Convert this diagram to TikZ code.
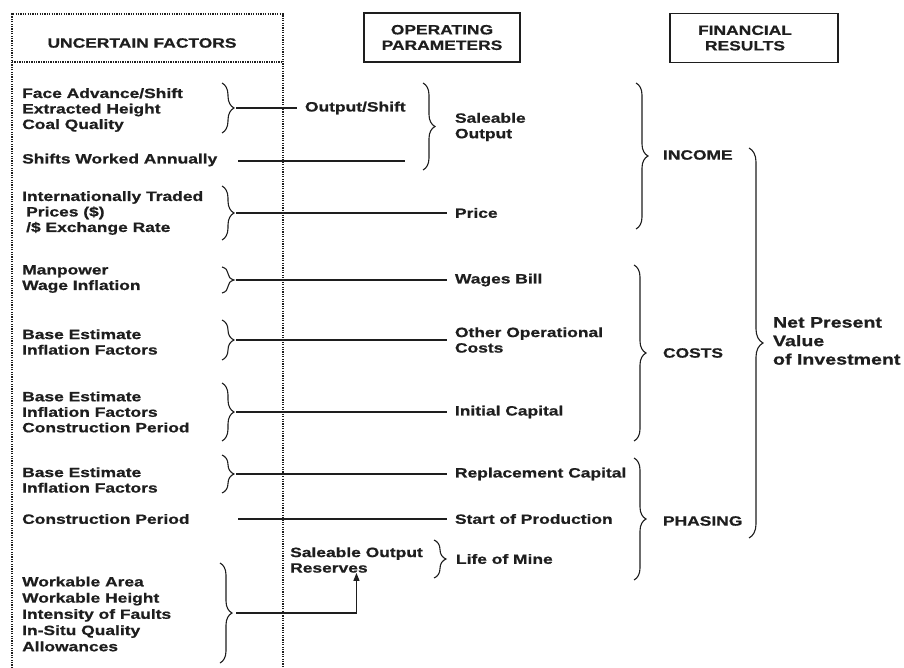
\documentclass[tikz,border=0pt]{standalone}
\usepackage{fontspec}
\setmainfont{Liberation Sans}[FakeStretch=1.29, BoldFeatures={FakeBold=0.7}]
\usetikzlibrary{decorations.pathreplacing,arrows.meta}
\definecolor{ink}{HTML}{1E1E1E}

\begin{document}
\begin{tikzpicture}[x=1pt,y=1pt,
  every node/.style={font=\fontsize{13.5}{15.5}\selectfont\bfseries, text=ink},
  factor/.style={anchor=west, inner sep=0pt, align=left},
  param/.style={anchor=west, inner sep=0pt, outer xsep=8pt, align=left},
  result/.style={anchor=west, inner sep=0pt, outer xsep=6pt, align=left},
  headbox/.style={draw=ink, line width=1.3pt, inner sep=0pt, align=center, minimum height=49pt},
  dotted rule/.style={draw=ink, line width=1.6pt, dash pattern=on 1.3pt off 1.1pt},
  curly/.style={draw=ink, decorate, decoration={brace, amplitude=12pt}, line width=1.1pt},
  link/.style={draw=ink, line width=1.1pt},
]
\fill[white] (0,0) rectangle (904,-668);
\useasboundingbox (0,0) rectangle (904,-668);

% left panel of uncertain factors
\draw[dotted rule] (12,-668) -- (12,-14) -- (283,-14) -- (283,-668);
\draw[dotted rule] (12,-62) -- (283,-62);

% column headings
\node[inner sep=0pt] (uf) at (142,-43) {UNCERTAIN FACTORS};
\node[headbox, minimum width=156pt] (opbox) at (442,-37.5) {OPERATING\\PARAMETERS};
\node[headbox, minimum width=168pt] (frbox) at (754,-38) {FINANCIAL\hspace*{18pt}\\RESULTS\hspace*{18pt}};

% uncertain factors
\node[factor] (f1) at (22,-110) {Face Advance/Shift\\Extracted Height\\Coal Quality};
\node[factor] (f2) at (22,-160) {Shifts Worked Annually};
\node[factor] (f3) at (22,-213) {Internationally Traded\\\hspace*{4pt}Prices (\$)\\\hspace*{4pt}/\$ Exchange Rate};
\node[factor] (f4) at (22,-279) {Manpower\\Wage Inflation};
\node[factor] (f5) at (22,-342) {Base Estimate\\Inflation Factors};
\node[factor] (f6) at (22,-412) {Base Estimate\\Inflation Factors\\Construction Period};
\node[factor] (f7) at (22,-480) {Base Estimate\\Inflation Factors};
\node[factor] (f8) at (22,-519) {Construction Period};
\node[factor, font=\fontsize{13.5}{16.2}\selectfont\bfseries] (f9) at (22,-614)
  {Workable Area\\Workable Height\\Intensity of Faults\\In-Situ Quality\\Allowances};

% braces gathering the factors
\draw[curly] (222,-83) -- (222,-133);  \coordinate (t1) at (236,-108);
\draw[curly] (222,-186) -- (222,-240); \coordinate (t3) at (236,-213);
\draw[curly] (222,-267) -- (222,-293); \coordinate (t4) at (236,-280);
\draw[curly] (222,-320) -- (222,-360); \coordinate (t5) at (236,-340);
\draw[curly] (222,-383) -- (222,-441); \coordinate (t6) at (236,-412);
\draw[curly] (222,-455) -- (222,-493); \coordinate (t7) at (236,-474);
\coordinate (t8) at (238,-519);
\coordinate (t2) at (238,-161);
\draw[curly] (220,-563) -- (220,-663); \coordinate (t9) at (236,-613);

% operating parameters
\node[param] (outshift) at (297,-108) {Output/Shift};
\coordinate (shiftsend) at (405,-161);
\node[param] (saleable) at (447,-127) {Saleable\\Output};
\node[param] (price) at (447,-213) {Price};
\node[param] (wages) at (447,-280) {Wages Bill};
\node[param] (otherops) at (447,-340) {Other Operational\\Costs};
\node[param] (initcap) at (447,-412) {Initial Capital};
\node[param] (replcap) at (447,-474) {Replacement Capital};
\node[param] (startprod) at (447,-519) {Start of Production};
\node[factor] (reserves) at (290,-560) {Saleable Output\\Reserves};
\node[param] (lifemine) at (448,-559) {Life of Mine};

\draw[curly] (423,-83) -- (423,-170);
\draw[curly] (434,-540) -- (434,-578);

% connectors from factors to parameters
\draw[link] (t1) -- (outshift.west);
\draw[link] (t2) -- (shiftsend);
\draw[link] (t3) -- (price.west);
\draw[link] (t4) -- (wages.west);
\draw[link] (t5) -- (otherops.west);
\draw[link] (t6) -- (initcap.west);
\draw[link] (t7) -- (replcap.west);
\draw[link] (t8) -- (startprod.west);
\draw[link, -{Triangle[length=8pt,width=6pt]}] (t9) -| (reserves.south);

% financial results
\draw[curly] (636,-83) -- (636,-229);
\draw[curly] (634,-265) -- (634,-441);
\draw[curly] (634,-458) -- (634,-580);
\node[result] (income) at (657,-155) {INCOME};
\node[result] (costs) at (657,-353) {COSTS};
\node[result] (phasing) at (657,-521) {PHASING};

\draw[draw=ink, decorate, decoration={brace, amplitude=14pt}, line width=1.1pt] (749,-148) -- (749,-538);
\node[result, font=\fontsize{15.2}{18.5}\selectfont\bfseries] (npv) at (767,-341) {Net Present\\Value\\of Investment};
\end{tikzpicture}
\end{document}
